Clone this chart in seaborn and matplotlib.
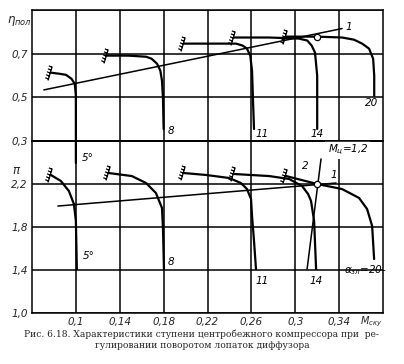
import numpy as np
import matplotlib
matplotlib.use("Agg")
import matplotlib.pyplot as plt
from matplotlib.path import Path
import seaborn as sns

# -----------------------------------------------------------
# Data
# -----------------------------------------------------------
x_ticks = [0.10, 0.14, 0.18, 0.22, 0.26, 0.30, 0.34]
x_labels = ["0,1", "0,14", "0,18", "0,22", "0,26", "0,3", "0,34"]
eta_ticks = [0.3, 0.5, 0.7]
eta_labels = ["0,3", "0,5", "0,7"]
pi_ticks = [1.0, 1.4, 1.8, 2.2]
pi_labels = ["1,0", "1,4", "1,8", "2,2"]

# efficiency curves (upper panel), one per diffuser vane angle
eta_5_x = [0.077, 0.085, 0.091, 0.096, 0.099, 0.100, 0.100]
eta_5_y = [0.613, 0.608, 0.603, 0.585, 0.562, 0.507, 0.199]
eta_8_x = [0.128, 0.148, 0.164, 0.169, 0.174, 0.177, 0.1785, 0.1794, 0.180]
eta_8_y = [0.691, 0.691, 0.686, 0.677, 0.654, 0.622, 0.576, 0.498, 0.355]
eta_11_x = [0.1985, 0.221, 0.246, 0.252, 0.256, 0.259, 0.2606, 0.2615, 0.2624]
eta_11_y = [0.746, 0.746, 0.746, 0.737, 0.723, 0.691, 0.622, 0.484, 0.355]
eta_14_x = [0.244, 0.276, 0.3035, 0.311, 0.315, 0.318, 0.320, 0.320, 0.320]
eta_14_y = [0.774, 0.774, 0.769, 0.760, 0.737, 0.705, 0.599, 0.484, 0.355]
eta_20_x = [0.2916, 0.320, 0.3427, 0.3536, 0.361, 0.3673, 0.371, 0.372, 0.372]
eta_20_y = [0.778, 0.778, 0.774, 0.764, 0.746, 0.723, 0.677, 0.599, 0.507]
eta_line1_x = [0.0708, 0.3427]
eta_line1_y = [0.534, 0.815]
eta_point = (0.320, 0.778)

# pressure ratio curves (lower panel)
pi_5_x = [0.0772, 0.0863, 0.0936, 0.0982, 0.100, 0.1009]
pi_5_y = [2.284, 2.228, 2.135, 2.014, 1.856, 1.409]
pi_8_x = [0.130, 0.151, 0.164, 0.173, 0.1785, 0.1794, 0.1803]
pi_8_y = [2.302, 2.274, 2.209, 2.116, 1.977, 1.791, 1.409]
pi_11_x = [0.1985, 0.2186, 0.2396, 0.2505, 0.256, 0.2597, 0.2606, 0.2624, 0.2642]
pi_11_y = [2.302, 2.284, 2.256, 2.209, 2.153, 2.060, 1.902, 1.670, 1.409]
pi_14_x = [0.2442, 0.2761, 0.2943, 0.3062, 0.3117, 0.3144, 0.3172, 0.319]
pi_14_y = [2.293, 2.274, 2.247, 2.181, 2.107, 2.042, 1.856, 1.409]
pi_20_x = [0.2916, 0.320, 0.3427, 0.3582, 0.3655, 0.3701, 0.3719]
pi_20_y = [2.274, 2.200, 2.153, 2.070, 1.967, 1.809, 1.502]
pi_line1_x = [0.0836, 0.3372]
pi_line1_y = [1.995, 2.209]
pi_line2_x = [0.3108, 0.3235]
pi_line2_y = [1.409, 2.433]
pi_point = (0.320, 2.200)

# -----------------------------------------------------------
# Style
# -----------------------------------------------------------
sns.set_style("white")
plt.rcParams["font.family"] = ["DejaVu Sans"]
plt.rcParams["mathtext.fontset"] = "dejavusans"

fig = plt.figure(figsize=(4.04, 3.64), dpi=100)
W, H = 404, 364
ax_top = fig.add_axes([32 / W, (H - 141) / H, 351 / W, 131 / H])
ax_bot = fig.add_axes([32 / W, (H - 313) / H, 351 / W, 172 / H])
for ax in (ax_top, ax_bot):
    ax.patch.set_alpha(0)
ax_top.set_zorder(3)

# surge-line hatch marker
verts = [(-0.5, -1.0), (0.1, 1.0)]
codes = [Path.MOVETO, Path.LINETO]
for t in np.linspace(0.1, 0.95, 5):
    px, py = -0.5 + 0.6 * t, -1.0 + 2.0 * t
    verts += [(px, py), (px - 0.45, py + 0.2)]
    codes += [Path.MOVETO, Path.LINETO]
hatch = Path(verts, codes)

curve_kw = dict(color="black", linewidth=1.6, sort=False, estimator=None, legend=False)
thin_kw = dict(color="black", linewidth=1.1, sort=False, estimator=None, legend=False)
lab_kw = dict(fontsize=7.5, fontstyle="italic", color="black")

# -----------------------------------------------------------
# Upper panel: efficiency
# -----------------------------------------------------------
top_curves = [(eta_5_x, eta_5_y), (eta_8_x, eta_8_y), (eta_11_x, eta_11_y),
              (eta_14_x, eta_14_y), (eta_20_x, eta_20_y)]
for cx, cy in top_curves:
    sns.lineplot(x=cx, y=cy, ax=ax_top, clip_on=False, **curve_kw)
    ax_top.plot(cx[0], cy[0], marker=hatch, ms=11, mew=0.9, mfc="none", mec="black", clip_on=False)
sns.lineplot(x=eta_line1_x, y=eta_line1_y, ax=ax_top, **thin_kw)
ax_top.plot(*eta_point, "o", ms=4.5, mfc="white", mec="black", mew=0.9, zorder=5)

ax_top.text(0.105, 0.21, "5°", **lab_kw)
ax_top.text(0.184, 0.33, "8", **lab_kw)
ax_top.text(0.264, 0.32, "11", **lab_kw)
ax_top.text(0.314, 0.32, "14", **lab_kw)
ax_top.text(0.364, 0.46, "20", **lab_kw)
ax_top.text(0.346, 0.81, "1", **lab_kw)
ax_top.text(-0.072, 0.85, r"$\eta_{пол}$", transform=ax_top.get_yaxis_transform(),
            ha="left", va="center", fontsize=8.5, fontstyle="italic")

ax_top.set_xlim(0.06, 0.38)
ax_top.set_ylim(0.3, 0.9)
ax_top.set_xticks(x_ticks)
ax_top.set_xticklabels([])
ax_top.set_yticks(eta_ticks + [0.9])
ax_top.set_yticklabels(eta_labels + [""])

# -----------------------------------------------------------
# Lower panel: pressure ratio
# -----------------------------------------------------------
bot_curves = [(pi_5_x, pi_5_y), (pi_8_x, pi_8_y), (pi_11_x, pi_11_y),
              (pi_14_x, pi_14_y), (pi_20_x, pi_20_y)]
for cx, cy in bot_curves:
    sns.lineplot(x=cx, y=cy, ax=ax_bot, **curve_kw)
    ax_bot.plot(cx[0], cy[0], marker=hatch, ms=11, mew=0.9, mfc="none", mec="black", clip_on=False)
sns.lineplot(x=pi_line1_x, y=pi_line1_y, ax=ax_bot, **thin_kw)
sns.lineplot(x=pi_line2_x, y=pi_line2_y, ax=ax_bot, **thin_kw)
ax_bot.plot(*pi_point, "o", ms=4.5, mfc="white", mec="black", mew=0.9, zorder=5)

ax_bot.text(0.106, 1.50, "5°", **lab_kw)
ax_bot.text(0.184, 1.45, "8", **lab_kw)
ax_bot.text(0.264, 1.34, "11", va="top", **lab_kw)
ax_bot.text(0.313, 1.34, "14", va="top", **lab_kw)
ax_bot.text(0.3445, 1.40, r"$\alpha_{зл}$=20-", va="center", **lab_kw)
ax_bot.text(0.3125, 2.34, "2", ha="right", **lab_kw)
ax_bot.text(0.332, 2.26, "1", **lab_kw)
ax_bot.text(0.348, 2.52, r"$M_{ц}$=1,2", ha="center", va="center",
            bbox=dict(fc="white", ec="none", pad=1.5), zorder=4, **lab_kw)
ax_bot.text(-0.058, 2.33, r"$\pi$", transform=ax_bot.get_yaxis_transform(),
            ha="left", va="center", fontsize=8.5, fontstyle="italic")

ax_bot.set_xlim(0.06, 0.38)
ax_bot.set_ylim(1.0, 2.6)
ax_bot.set_xticks(x_ticks)
ax_bot.set_xticklabels(x_labels, fontstyle="italic", fontsize=7.5)
ax_bot.set_yticks(pi_ticks + [2.6])
ax_bot.set_yticklabels(pi_labels + [""])
ax_bot.text(0.359, -0.068, r"$M_{ску}$", transform=ax_bot.get_xaxis_transform(),
            va="baseline", fontsize=7, fontstyle="italic")

for ax in (ax_top, ax_bot):
    ax.grid(True, color="black", linewidth=1.1)
    ax.set_axisbelow(True)
    ax.set_xlabel("")
    ax.set_ylabel("")
    ax.tick_params(length=0, pad=3, labelsize=7.5)
    for lab in ax.get_yticklabels():
        lab.set_fontstyle("italic")
    for s in ax.spines.values():
        s.set_color("black")
        s.set_linewidth(1.1)

# -----------------------------------------------------------
# Caption
# -----------------------------------------------------------
fig.text(0.5, (H - 334) / H, "Рис. 6.18. Характеристики ступени центробежного компрессора при  ре-",
         ha="center", va="center", family="DejaVu Serif", fontsize=6.6)
fig.text(0.5, (H - 346) / H, "гулировании поворотом лопаток диффузора",
         ha="center", va="center", family="DejaVu Serif", fontsize=6.6)

fig.savefig("out.png", dpi=100)
